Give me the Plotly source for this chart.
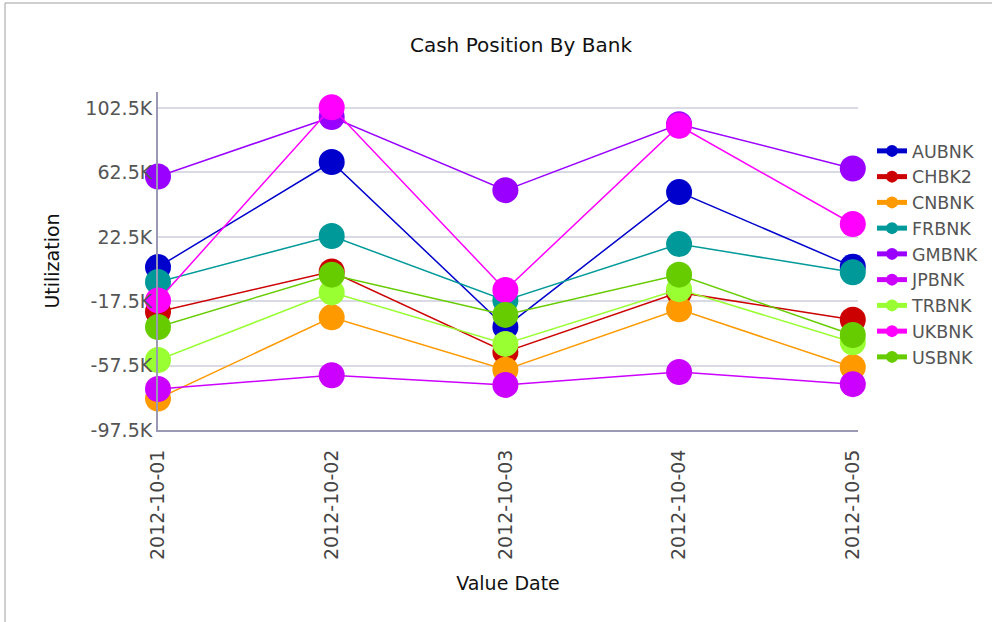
import plotly.graph_objects as go

# Value dates on the x axis
dates = ["2012-10-01", "2012-10-02", "2012-10-03", "2012-10-04", "2012-10-05"]

# Cash position per bank (utilization)
aubnk = [3700, 69000, -33500, 50300, 4000]
chbk2 = [-24000, 1000, -49000, -12000, -29000]
cnbnk = [-78000, -27500, -60000, -22500, -58500]
frbnk = [-5500, 23000, -17000, 18000, 500]
gmbnk = [60000, 97000, 51500, 92500, 65000]
jpbnk = [-72000, -63500, -69500, -61500, -69000]
trbnk = [-54000, -12000, -44000, -10000, -43000]
ukbnk = [-17000, 103000, -10500, 91500, 30500]
usbnk = [-33500, -1000, -26000, -1000, -38500]

banks = ["AUBNK", "CHBK2", "CNBNK", "FRBNK", "GMBNK", "JPBNK", "TRBNK", "UKBNK", "USBNK"]
series = [aubnk, chbk2, cnbnk, frbnk, gmbnk, jpbnk, trbnk, ukbnk, usbnk]
colors = ["#0000CC", "#CC0000", "#FF9900", "#009999", "#9900FF",
          "#CC00FF", "#99FF33", "#FF00FF", "#66CC00"]

# Y axis ticks
y_tickvals = [-97500, -57500, -17500, 22500, 62500, 102500]
y_ticktext = ["-97.5K", "-57.5K", "-17.5K", "22.5K", "62.5K", "102.5K"]

FONT = "DejaVu Sans"
W, H = 992, 622
ML, MR, MT, MB = 158, 134, 92, 192

fig = go.Figure()
for name, vals, col in zip(banks, series, colors):
    fig.add_trace(go.Scatter(
        x=dates, y=vals, name=name, mode="lines+markers",
        line=dict(color=col, width=1.5),
        marker=dict(color=col, size=26, line=dict(width=0)),
        cliponaxis=False,
    ))

pw = W - ML - MR
ph = H - MT - MB

def px_x(px):
    return (px - ML) / pw

def px_y(py):
    return (H - MB - py) / ph

# outer frame lines along the top and left edges
fig.add_shape(type="line", xref="paper", yref="paper",
              x0=px_x(5), x1=px_x(W), y0=px_y(3), y1=px_y(3),
              line=dict(color="#A0A0A0", width=1))
fig.add_shape(type="line", xref="paper", yref="paper",
              x0=px_x(5), x1=px_x(5), y0=px_y(3), y1=px_y(H),
              line=dict(color="#A0A0A0", width=1))

fig.update_layout(
    width=W, height=H,
    margin=dict(l=ML, r=MR, t=MT, b=MB, autoexpand=False),
    paper_bgcolor="white", plot_bgcolor="white",
    font=dict(family=FONT, size=17, color="#555555"),
    title=dict(text="Cash Position By Bank", x=px_x(521), xref="paper", xanchor="center",
               y=1 - 45 / H, yref="container", yanchor="middle",
               font=dict(family=FONT, size=20, color="#111111")),
    showlegend=True,
    legend=dict(x=px_x(872), xanchor="left", y=px_y(133), yanchor="top",
                font=dict(family=FONT, size=17.5, color="#555555"),
                itemsizing="constant", bgcolor="rgba(0,0,0,0)"),
    xaxis=dict(
        type="category", range=[0, 4.03],
        showgrid=False, zeroline=False,
        showline=True, linecolor="#9A9AB4", linewidth=2,
        tickangle=-90, ticks="", ticklabelstandoff=10,
        tickfont=dict(family=FONT, size=19, color="#444444"),
        title=dict(text="Value Date", standoff=18,
                   font=dict(family=FONT, size=19, color="#111111")),
    ),
    yaxis=dict(
        range=[-97500, 112500],
        tickvals=y_tickvals, ticktext=y_ticktext,
        showgrid=True, gridcolor="#DADAE6", gridwidth=1.5,
        zeroline=False,
        showline=True, linecolor="#9A9AB4", linewidth=2,
        ticks="", tickfont=dict(family=FONT, size=19, color="#555555"),
        title=dict(text="Utilization", standoff=21,
                   font=dict(family=FONT, size=19, color="#111111")),
    ),
)

fig.write_html("out.html")
